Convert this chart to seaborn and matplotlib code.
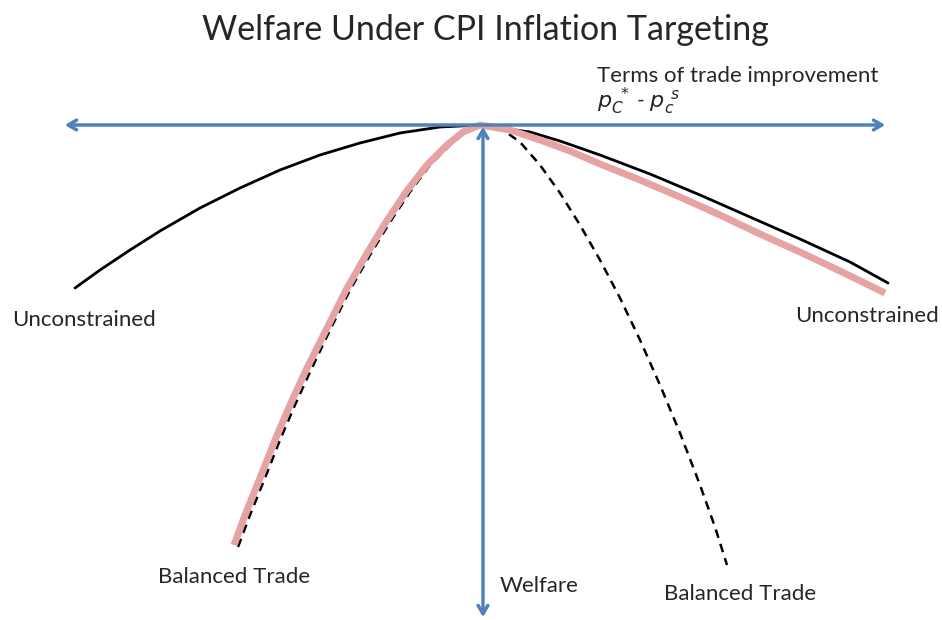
import seaborn as sns
import matplotlib.pyplot as plt
import pandas as pd

# curve points (pixel-like units, y grows downward)
unc_x = [75, 100, 130, 160, 200, 240, 280, 320, 360, 400, 440, 480,
         530, 560, 600, 650, 700, 750, 800, 850, 888]
unc_y = [288, 270, 250, 231, 208, 188, 170, 155, 143, 133, 127, 125,
         132, 141, 155, 174, 195, 217, 239, 262, 283]

bal_x = [238, 250, 265, 280, 295, 310, 330, 350, 370, 390, 410, 430, 450, 465, 480,
         500, 520, 540, 560, 580, 600, 620, 640, 660, 680, 700, 715, 727]
bal_y = [547, 515, 478, 440, 405, 372, 330, 290, 255, 222, 192, 165, 145, 132, 125,
         128, 142, 165, 193, 225, 260, 298, 340, 385, 433, 485, 527, 565]

cpi_x = [234, 245, 260, 275, 290, 306, 326, 346, 366, 386, 406, 427, 447, 463, 480,
         510, 540, 570, 600, 640, 680, 720, 760, 800, 840, 885]
cpi_y = [545, 515, 478, 440, 405, 370, 330, 290, 255, 222, 192, 165, 145, 132, 125,
         130, 140, 151, 164, 180, 197, 215, 234, 252, 271, 293]

labels = ["Unconstrained", "Unconstrained", "Balanced Trade", "Welfare", "Balanced Trade"]
label_x = [12, 795, 158, 500, 664]
label_y = [320, 316, 577, 586, 594]

sns.set_style("white")
plt.rcParams['font.family'] = ['Lato', 'DejaVu Sans']

fig = plt.figure(figsize=(9.42, 6.2), dpi=100)
ax = fig.add_axes([0, 0, 1, 1])

blue = '#4F81BD'
# axes arrows
ax.annotate('', xy=(62, 125), xytext=(888, 125),
            arrowprops=dict(arrowstyle='<->,head_length=0.6,head_width=0.35', color=blue, lw=2.5))
ax.annotate('', xy=(483, 620), xytext=(483, 124),
            arrowprops=dict(arrowstyle='<->,head_length=0.6,head_width=0.35', color=blue, lw=2.5))

df_unc = pd.DataFrame({'x': unc_x, 'y': unc_y})
df_bal = pd.DataFrame({'x': bal_x, 'y': bal_y})
df_cpi = pd.DataFrame({'x': cpi_x, 'y': cpi_y})

sns.lineplot(data=df_unc, x='x', y='y', sort=False, estimator=None, color='black', lw=2, ax=ax)
sns.lineplot(data=df_bal, x='x', y='y', sort=False, estimator=None, color='black', lw=1.8,
             linestyle=(0, (3.5, 2.5)), ax=ax)
sns.lineplot(data=df_cpi, x='x', y='y', sort=False, estimator=None, color='#E6A3A3', lw=5,
             solid_capstyle='butt', solid_joinstyle='round', ax=ax)

for t, x, y in zip(labels, label_x, label_y):
    ax.text(x, y, t, fontsize=16, ha='left', va='center')

ax.text(597, 76, "Terms of trade improvement", fontsize=16, ha='left', va='center')
ax.text(597, 101, r"$p_C^{\ *}$ - $p_c^{\ s}$", fontsize=16, ha='left', va='center', style='italic')

ax.text(485, 30, "Welfare Under CPI Inflation Targeting", fontsize=24.5, ha='center', va='center')

ax.set_xlim(0, 942)
ax.set_ylim(620, 0)
ax.set_xlabel('')
ax.set_ylabel('')
ax.axis('off')

plt.savefig("out.png", dpi=100)
